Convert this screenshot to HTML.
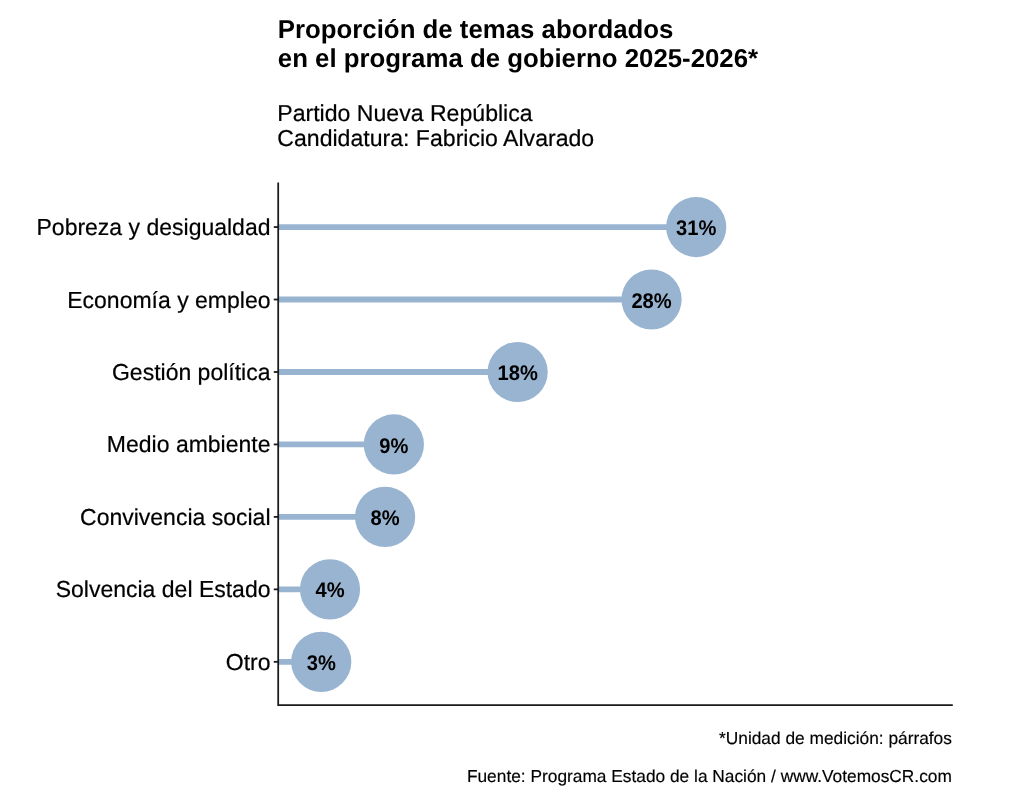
<!DOCTYPE html>
<html lang="es"><head><meta charset="utf-8"><title>Proporción de temas abordados</title>
<style>
html,body{margin:0;padding:0;background:#fff;}
body{width:1024px;height:800px;overflow:hidden;font-family:"Liberation Sans",sans-serif;}
svg{display:block;}
text{font-family:"Liberation Sans",sans-serif;fill:#000;text-rendering:geometricPrecision;}
.title{font-weight:bold;font-size:25.8px;}
.sub{font-size:23.08px;stroke:#000;stroke-width:0.2px;}
.ylab{font-size:23.0px;text-anchor:end;stroke:#000;stroke-width:0.2px;}
.val{font-weight:bold;font-size:20.15px;text-anchor:middle;}
.cap{font-size:17.32px;text-anchor:end;stroke:#000;stroke-width:0.15px;}
</style></head><body>
<svg width="1024" height="800" viewBox="0 0 1024 800">
<rect width="1024" height="800" fill="#fff"/>
<text class="title" transform="translate(277.8 38.3) scale(1 1.005)">Proporción de temas abordados</text>
<text class="title" transform="translate(277.8 66.7) scale(1 1.005)">en el programa de gobierno 2025-2026*</text>
<text class="sub" transform="translate(277.3 120.8) scale(1 1.0)">Partido Nueva República</text>
<text class="sub" transform="translate(277.3 146.1) scale(1 1.0)">Candidatura: Fabricio Alvarado</text>
<line x1="278.2" y1="227.06" x2="696.2" y2="227.06" stroke="#99b4d0" stroke-width="5.8"/>
<line x1="278.2" y1="299.52" x2="651.55" y2="299.52" stroke="#99b4d0" stroke-width="5.8"/>
<line x1="278.2" y1="371.98" x2="517.65" y2="371.98" stroke="#99b4d0" stroke-width="5.8"/>
<line x1="278.2" y1="444.44" x2="393.85" y2="444.44" stroke="#99b4d0" stroke-width="5.8"/>
<line x1="278.2" y1="516.9" x2="385.1" y2="516.9" stroke="#99b4d0" stroke-width="5.8"/>
<line x1="278.2" y1="589.36" x2="330.0" y2="589.36" stroke="#99b4d0" stroke-width="5.8"/>
<line x1="278.2" y1="661.82" x2="321.25" y2="661.82" stroke="#99b4d0" stroke-width="5.8"/>
<circle cx="696.2" cy="227.06" r="30.1" fill="#99b4d0"/>
<circle cx="651.55" cy="299.52" r="30.1" fill="#99b4d0"/>
<circle cx="517.65" cy="371.98" r="30.1" fill="#99b4d0"/>
<circle cx="393.85" cy="444.44" r="30.1" fill="#99b4d0"/>
<circle cx="385.1" cy="516.9" r="30.1" fill="#99b4d0"/>
<circle cx="330.0" cy="589.36" r="30.1" fill="#99b4d0"/>
<circle cx="321.25" cy="661.82" r="30.1" fill="#99b4d0"/>
<text class="val" transform="translate(696.2 235.16) scale(1 1.05)">31%</text>
<text class="val" transform="translate(651.55 307.62) scale(1 1.05)">28%</text>
<text class="val" transform="translate(517.65 380.08) scale(1 1.05)">18%</text>
<text class="val" transform="translate(393.85 452.54) scale(1 1.05)">9%</text>
<text class="val" transform="translate(385.1 525.0) scale(1 1.05)">8%</text>
<text class="val" transform="translate(330.0 597.46) scale(1 1.05)">4%</text>
<text class="val" transform="translate(321.25 669.92) scale(1 1.05)">3%</text>
<line x1="273.8" y1="227.06" x2="278.2" y2="227.06" stroke="#1a1a1a" stroke-width="1.8"/>
<text class="ylab" transform="translate(270.5 235.06) scale(1 1.005)">Pobreza y desigualdad</text>
<line x1="273.8" y1="299.52" x2="278.2" y2="299.52" stroke="#1a1a1a" stroke-width="1.8"/>
<text class="ylab" transform="translate(270.5 307.52) scale(1 1.005)">Economía y empleo</text>
<line x1="273.8" y1="371.98" x2="278.2" y2="371.98" stroke="#1a1a1a" stroke-width="1.8"/>
<text class="ylab" transform="translate(270.5 379.98) scale(1 1.005)">Gestión política</text>
<line x1="273.8" y1="444.44" x2="278.2" y2="444.44" stroke="#1a1a1a" stroke-width="1.8"/>
<text class="ylab" transform="translate(270.5 452.44) scale(1 1.005)">Medio ambiente</text>
<line x1="273.8" y1="516.9" x2="278.2" y2="516.9" stroke="#1a1a1a" stroke-width="1.8"/>
<text class="ylab" transform="translate(270.5 524.9) scale(1 1.005)">Convivencia social</text>
<line x1="273.8" y1="589.36" x2="278.2" y2="589.36" stroke="#1a1a1a" stroke-width="1.8"/>
<text class="ylab" transform="translate(270.5 597.36) scale(1 1.005)">Solvencia del Estado</text>
<line x1="273.8" y1="661.82" x2="278.2" y2="661.82" stroke="#1a1a1a" stroke-width="1.8"/>
<text class="ylab" transform="translate(270.5 669.82) scale(1 1.005)">Otro</text>
<path d="M278.2 182.5 V705.2 H952.8" fill="none" stroke="#1a1a1a" stroke-width="1.75"/>
<text class="cap" transform="translate(951.9 744.3) scale(1 1.0)">*Unidad de medición: párrafos</text>
<text class="cap" transform="translate(951.9 782.2) scale(1 1.0)">Fuente: Programa Estado de la Nación / www.VotemosCR.com</text>
</svg></body></html>
